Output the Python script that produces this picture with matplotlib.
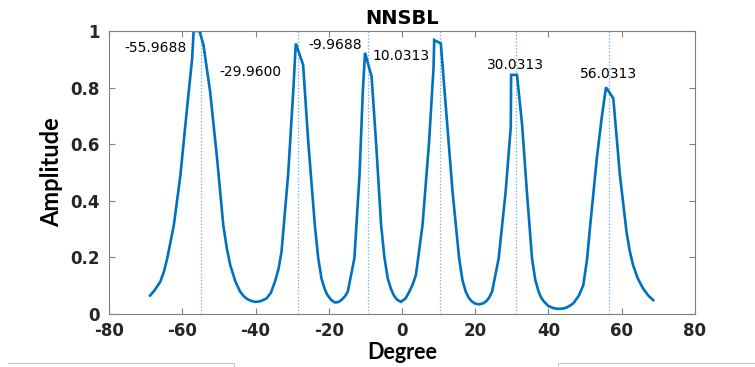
import matplotlib
matplotlib.use("Agg")
import matplotlib.pyplot as plt
from matplotlib.lines import Line2D

plt.rcParams["axes.unicode_minus"] = False

# Spectrum curve (degrees, amplitude)
degree = [-68.8, -67.5, -66.0, -65.0, -64.1, -62.3, -60.5, -58.7, -57.3, -56.9, -55.3,
          -54.2, -52.4, -50.5, -48.8, -47.8, -46.9, -45.5, -44.2, -43.2, -42.2, -41.1, -40.1, -39.1, -38.5,
          -37.0, -35.8, -34.7, -33.7, -32.9, -31.1, -29.7, -29.0, -27.0, -25.6, -23.8,
          -22.9, -22.0, -21.2, -20.5, -19.5, -18.4, -17.4, -16.5, -15.6, -14.8, -13.0, -11.6, -10.7, -10.1, -8.3,
          -7.1, -5.7, -4.8, -3.9, -3.0, -2.2, -1.3, -0.3, 1.0, 2.0, 2.9, 3.8, 5.6, 7.4,
          8.6, 8.8, 10.6, 12.0, 13.8, 15.6, 16.5, 17.4, 18.2, 19.0, 20.0, 21.0, 22.0, 23.0,
          23.8, 24.6, 26.4, 28.3, 29.7, 29.8, 31.4, 32.8, 34.1, 35.5, 36.4, 37.3,
          38.0, 38.7, 40.0, 41.3, 42.7, 43.8, 44.8, 45.8, 46.8, 48.3, 49.5, 50.5, 51.4, 53.2, 54.5,
          55.7, 57.7, 59.5, 61.3, 62.2, 63.1, 64.4, 65.8, 67.2, 68.6]
amplitude = [0.065, 0.085, 0.114, 0.15, 0.197, 0.314, 0.491, 0.727, 0.903, 1.0, 1.0,
             0.95, 0.786, 0.55, 0.314, 0.23, 0.173, 0.115, 0.079, 0.063, 0.052, 0.046, 0.043, 0.044, 0.046,
             0.055, 0.075, 0.114, 0.16, 0.22, 0.491, 0.786, 0.956, 0.88, 0.609, 0.314,
             0.2, 0.126, 0.092, 0.07, 0.052, 0.041, 0.042, 0.05, 0.062, 0.079, 0.197, 0.491, 0.786, 0.923, 0.839,
             0.609, 0.314, 0.2, 0.126, 0.088, 0.065, 0.05, 0.043, 0.055, 0.079, 0.104, 0.138, 0.314, 0.609,
             0.868, 0.968, 0.956, 0.727, 0.432, 0.197, 0.12, 0.079, 0.058, 0.045, 0.037, 0.034, 0.037, 0.045,
             0.058, 0.079, 0.197, 0.432, 0.66, 0.845, 0.845, 0.668, 0.432, 0.197, 0.12, 0.079,
             0.058, 0.045, 0.028, 0.021, 0.018, 0.019, 0.022, 0.029, 0.038, 0.065, 0.102, 0.19, 0.314, 0.55, 0.691,
             0.801, 0.762, 0.491, 0.291, 0.222, 0.173, 0.125, 0.091, 0.066, 0.049]

# Estimated directions (dotted markers) and their labels
marker_deg = [-55.0, -28.5, -9.2, 10.3, 31.1, 56.4]
label_text = ["-55.9688", "-29.9600", "-9.9688", "10.0313", "30.0313", "56.0313"]
label_x = [-75.7, -49.9, -25.7, -8.1, 23.2, 48.5]
label_y = [0.94, 0.855, 0.95, 0.91, 0.88, 0.848]

xticks = [-80, -60, -40, -20, 0, 20, 40, 60, 80]
yticks = [0, 0.2, 0.4, 0.6, 0.8, 1]
ytick_labels = ["0", "0.2", "0.4", "0.6", "0.8", "1"]

fig = plt.figure(figsize=(7.55, 3.67), dpi=100)
ax = fig.add_axes([0.1444, 0.1444, 0.9205 - 0.1444, 0.9155 - 0.1444])

for xd in marker_deg:
    ax.plot([xd, xd], [0, 1], linestyle=":", color="#5aaee8", linewidth=0.9, zorder=1)

ax.plot(degree, amplitude, color="#0072BD", linewidth=1.9, zorder=2,
        solid_joinstyle="miter")

for t, x, y in zip(label_text, label_x, label_y):
    ax.text(x, y, t, fontsize=10, family="DejaVu Sans", color="black",
            ha="left", va="center")

ax.set_xlim(-80, 80)
ax.set_ylim(0, 1)
ax.set_xticks(xticks)
ax.set_yticks(yticks)
ax.set_yticklabels(ytick_labels)
ax.tick_params(direction="in", length=4, top=True, right=True,
               colors="#808080", labelcolor="#262626", labelsize=12, width=0.8)
ax.tick_params(axis="x", pad=6)
ax.tick_params(axis="y", pad=7)
for lab in ax.get_xticklabels() + ax.get_yticklabels():
    lab.set_fontweight("bold")
    lab.set_family("DejaVu Sans")
for s in ax.spines.values():
    s.set_color("#808080")
    s.set_linewidth(0.8)

ax.set_title("NNSBL", fontsize=14, fontweight="bold", family="DejaVu Sans", pad=5)
ax.set_xlabel("Degree", fontsize=15.5, fontweight="bold", family="Lato")
ax.xaxis.set_label_coords(0.5, -0.098)
ax.set_ylabel("Amplitude", fontsize=17, fontweight="bold", family="Lato", labelpad=5)

# stray slide frame lines at the bottom of the screenshot
fig.add_artist(Line2D([8 / 755, 234 / 755, 234 / 755], [1 - 363 / 367, 1 - 363 / 367, 0],
                      color="#c8c8c8", linewidth=0.8))
fig.add_artist(Line2D([1.0, 558 / 755, 558 / 755], [1 - 363 / 367, 1 - 363 / 367, 0],
                      color="#c8c8c8", linewidth=0.8))

fig.savefig("out.png", dpi=100)
